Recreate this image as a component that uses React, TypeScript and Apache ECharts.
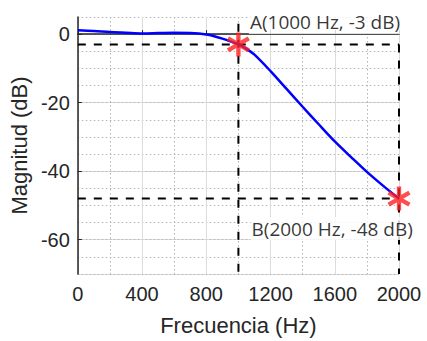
import React, { useEffect, useRef } from "react";
import * as echarts from "echarts";

// Frequency response
const freqHz = [0, 100, 200, 300, 400, 500, 600, 700, 800, 850, 900, 950, 1000, 1050, 1100, 1200, 1300, 1400, 1500, 1600, 1700, 1800, 1900, 2000];
const magDb = [1.1, 0.9, 0.6, 0.4, 0.2, 0.3, 0.4, 0.3, -0.1, -0.6, -1.3, -2.1, -3, -4.3, -6, -10.8, -16, -21.2, -26.3, -31.3, -35.8, -40.2, -44.2, -48];

// Marked points
const pointNames = ["A", "B"];
const pointHz = [1000, 2000];
const pointDb = [-3, -48];

// Axis settings
const xMin = 0;
const xMax = 2000;
const xStep = 400;
const yMin = -70;
const yMax = 5;
const yMinorStep = 5;
const vLineTopDb = 3;

const ASTERISK =
  "path://M-1.8 -10L1.8 -10L1.8 10L-1.8 10Z" +
  "M7.76 -6.56L9.56 -3.44L-7.76 6.56L-9.56 3.44Z" +
  "M9.56 3.44L7.76 6.56L-9.56 -3.44L-7.76 -6.56Z";

export default function App() {
  const ref = useRef<HTMLDivElement>(null);
  useEffect(() => {
    if (!ref.current) return;
    const chart = echarts.init(ref.current, null, { renderer: "svg" });
    const axisColor = "#262626";
    const dashed = { color: "#000", width: 2, type: [8, 8] as number[] };
    const labelFont = "Liberation Sans";
    const annFont = "Open Sans";
    const curve = freqHz.map((f, i) => [f, magDb[i]]);
    const labelPos: [number, number][] = [
      [22, -10],
      [-137, 42],
    ];
    chart.setOption({
      animation: false,
      backgroundColor: "#fff",
      grid: { left: 76, right: 28, top: 17, bottom: 64 },
      xAxis: {
        type: "value",
        min: xMin,
        max: xMax,
        interval: xStep,
        name: "Frecuencia (Hz)",
        nameLocation: "middle",
        nameGap: 40,
        nameTextStyle: { fontFamily: labelFont, fontSize: 22, color: axisColor },
        axisLine: { show: true, lineStyle: { color: axisColor, width: 1.5 } },
        axisTick: { show: true, inside: true, length: 4, lineStyle: { color: axisColor } },
        axisLabel: {
          fontFamily: labelFont,
          fontSize: 20,
          color: axisColor,
          margin: 10,
          formatter: (v: number) => String(v),
        },
        splitLine: { show: true, lineStyle: { color: "#dcdcdc", width: 1 } },
        minorTick: { show: false, splitNumber: 2 },
        minorSplitLine: { show: true, lineStyle: { color: "#b4b4b4", width: 1, type: [1.5, 2.5] } },
      },
      yAxis: [
        {
          type: "value",
          min: yMin,
          max: yMax,
          splitNumber: 4,
          name: "Magnitud (dB)",
          nameLocation: "middle",
          nameGap: 43,
          nameTextStyle: { fontFamily: labelFont, fontSize: 22, color: axisColor },
          axisLine: { show: true, lineStyle: { color: axisColor, width: 1.5 } },
          axisTick: { show: true, inside: true, length: 4, lineStyle: { color: axisColor } },
          axisLabel: {
            fontFamily: labelFont,
            fontSize: 20,
            color: axisColor,
            margin: 8,
            showMinLabel: false,
            showMaxLabel: false,
          },
          splitLine: { show: true, showMaxLine: false, lineStyle: { color: "#dcdcdc", width: 1 } },
        },
        {
          type: "value",
          min: yMin,
          max: yMax,
          interval: yMinorStep,
          axisLine: { show: false },
          axisTick: { show: false },
          axisLabel: { show: false },
          splitLine: { show: true, lineStyle: { color: "#b4b4b4", width: 1, type: [1.5, 2.5] } },
        },
      ],
      series: [
        {
          type: "line",
          z: 3,
          symbol: "none",
          silent: true,
          lineStyle: dashed,
          data: [
            [xMin, pointDb[0]],
            [xMax, pointDb[0]],
          ],
        },
        {
          type: "line",
          z: 3,
          symbol: "none",
          silent: true,
          lineStyle: dashed,
          data: [
            [xMin, pointDb[1]],
            [xMax, pointDb[1]],
          ],
        },
        {
          type: "line",
          z: 3,
          symbol: "none",
          silent: true,
          lineStyle: dashed,
          data: [
            [pointHz[0], vLineTopDb],
            [pointHz[0], yMin],
          ],
        },
        {
          type: "line",
          z: 3,
          symbol: "none",
          silent: true,
          lineStyle: dashed,
          data: [
            [pointHz[1], pointDb[0]],
            [pointHz[1], yMin],
          ],
        },
        {
          type: "line",
          z: 4,
          symbol: "none",
          smooth: 0.3,
          lineStyle: { color: "#0000ff", width: 2.5 },
          data: curve,
        },
        {
          type: "scatter",
          z: 10,
          symbol: ASTERISK,
          symbolSize: [23, 24],
          itemStyle: { color: "#ff1f1f" },
          data: pointNames.map((n, i) => ({
            value: [pointHz[i], pointDb[i]],
            label: {
              show: true,
              position: labelPos[i],
              align: "left",
              verticalAlign: "middle",
              formatter: `${n}(${pointHz[i]} Hz, ${pointDb[i]} dB)`,
              fontFamily: annFont,
              fontSize: 19,
              color: "#000",
              backgroundColor: "#fff",
              padding: [2, 2, 2, 1],
            },
          })),
        },
      ],
    });
    return () => chart.dispose();
  }, []);
  return (
    <div
      ref={ref}
      style={{ position: "absolute", left: 0, top: 0, width: 427, height: 341 }}
    />
  );
}
